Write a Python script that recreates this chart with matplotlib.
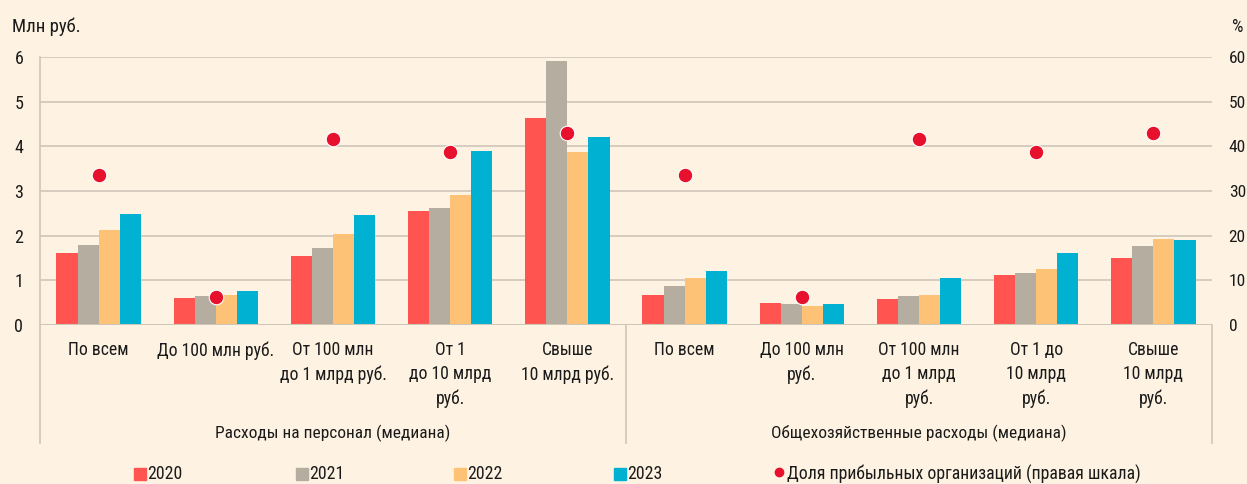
import matplotlib
matplotlib.use("Agg")
import matplotlib.pyplot as plt
from matplotlib import font_manager
from matplotlib.lines import Line2D
import matplotlib.transforms as mtransforms
import numpy as np

names = {f.name for f in font_manager.fontManager.ttflist}
fam = [f for f in ["Liberation Sans Narrow", "Roboto Condensed", "Liberation Sans", "DejaVu Sans"] if f in names]
plt.rcParams['font.family'] = fam + ["DejaVu Sans"]

categories = ["По всем", "До 100 млн руб.", "От 100 млн\nдо 1 млрд руб.", "От 1\nдо 10 млрд\nруб.", "Свыше\n10 млрд руб.",
              "По всем", "До 100 млн\nруб.", "От 100 млн\nдо 1 млрд\nруб.", "От 1 до\n10 млрд\nруб.", "Свыше\n10 млрд\nруб."]
groups = ["Расходы на персонал (медиана)", "Общехозяйственные расходы (медиана)"]
years = ["2020", "2021", "2022", "2023"]
v2020 = [1.62, 0.60, 1.55, 2.56, 4.64, 0.68, 0.50, 0.58, 1.12, 1.50]
v2021 = [1.80, 0.64, 1.72, 2.62, 5.92, 0.87, 0.46, 0.65, 1.16, 1.77]
v2022 = [2.12, 0.67, 2.03, 2.92, 3.88, 1.05, 0.42, 0.67, 1.26, 1.93]
v2023 = [2.48, 0.76, 2.47, 3.90, 4.20, 1.20, 0.46, 1.05, 1.62, 1.90]
share = [33.6, 6.3, 41.6, 38.8, 42.9, 33.6, 6.3, 41.6, 38.8, 42.9]
legend_share = "Доля прибыльных организаций (правая шкала)"

colors = ["#FF5450", "#B5ADA0", "#FDC275", "#00B1D2"]
dot_color = "#E8112D"
bg = "#FEF3E2"
grid_c = "#CFC6BA"
txt = "#1A1A1A"

fig = plt.figure(figsize=(12.47, 4.84), dpi=100, facecolor=bg)
W, H = 1247, 484
L, R, T, B = 40, 1212, 57, 325
ax = fig.add_axes([L / W, 1 - B / H, (R - L) / W, (B - T) / H])
ax.set_facecolor(bg)
ax2 = ax.twinx()

x = np.arange(len(categories))
bw = 0.18
for i, (vals, c) in enumerate(zip([v2020, v2021, v2022, v2023], colors)):
    ax.bar(x + (i - 1.5) * bw, vals, width=bw, color=c, zorder=3, linewidth=0)

ax2.scatter(x, share, s=110, color=dot_color, edgecolor="white", linewidth=0.8, zorder=5)

ax.set_xlim(-0.5, len(categories) - 0.5)
ax.set_ylim(0, 6)
ax2.set_ylim(0, 60)
ax.set_yticks(range(0, 7))
ax2.set_yticks(range(0, 61, 10))
for a in (ax, ax2):
    for s in a.spines.values():
        s.set_visible(False)
    a.tick_params(length=0, colors=txt)
ax.tick_params(axis='y', pad=12, labelsize=13)
ax2.tick_params(axis='y', pad=12, labelsize=12.5)
ax.set_xticks([])
ax.grid(axis='y', color=grid_c, linewidth=1.2, zorder=0)
ax.set_axisbelow(True)
ax2.set_zorder(ax.get_zorder() + 1)
ax2.patch.set_visible(False)
ax.axhline(0, color=grid_c, linewidth=1.5, zorder=4)

# left spine and separators
fig.add_artist(Line2D([L / W, L / W], [1 - T / H, 1 - 443 / H], color=grid_c, lw=1.2))
for xp in [626, R]:
    fig.add_artist(Line2D([xp / W, xp / W], [1 - B / H, 1 - 443 / H], color=grid_c, lw=1.2))

# category labels
for i, lab in enumerate(categories):
    ax.text(i, -0.36, lab, ha='center', va='top', fontsize=12.7, color=txt,
            linespacing=1.45, transform=ax.transData, clip_on=False)
blend = mtransforms.blended_transform_factory(ax.transData, fig.transFigure)
for g, gl in enumerate(groups):
    ax.text(2 + 5 * g, 1 - 433 / H, gl, ha='center', va='center', fontsize=12.5, color=txt,
            transform=blend)

fig.text(12 / W, 1 - 27 / H, "Млн руб.", fontsize=13.5, color=txt, va='center', ha='left')
fig.text(1243 / W, 1 - 27 / H, "%", fontsize=13, color=txt, va='center', ha='right')

# legend
ly = 1 - 474 / H
for xp, c, lab in zip([140, 302, 460, 620], colors, years):
    fig.add_artist(Line2D([xp / W], [ly], marker='s', color=c, markersize=9, linestyle='none'))
    fig.text((xp + 7) / W, ly, lab, fontsize=12.8, color=txt, va='center', ha='left')
fig.add_artist(Line2D([779 / W], [ly + 0.004], marker='o', color=dot_color, markersize=6, linestyle='none'))
fig.text(787 / W, ly, legend_share, fontsize=12.8, color=txt, va='center', ha='left')

fig.savefig("out.png", dpi=100, facecolor=bg)
